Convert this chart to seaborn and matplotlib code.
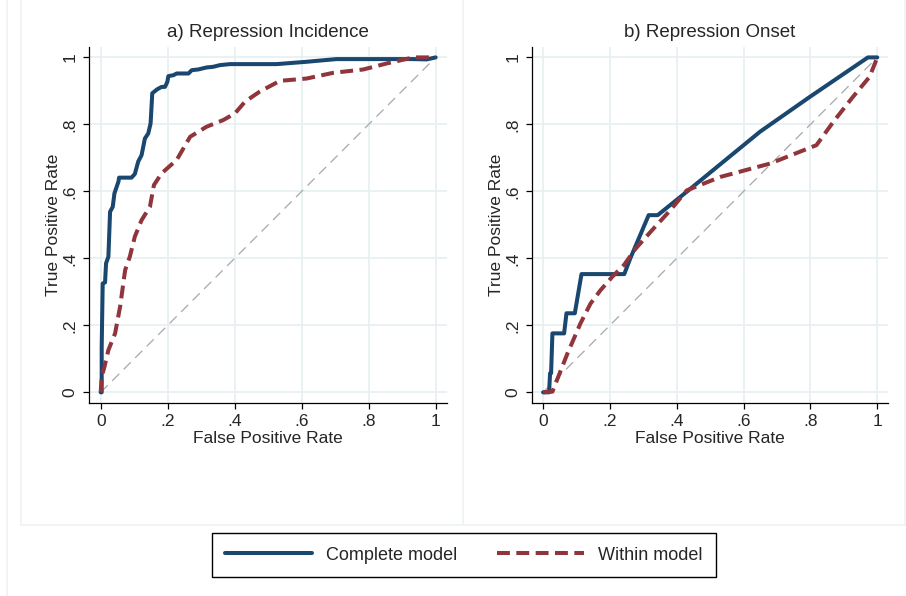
import pandas as pd
import matplotlib
matplotlib.use("Agg")
import matplotlib.pyplot as plt
from matplotlib.lines import Line2D
import seaborn as sns

# ROC points (false positive rate, true positive rate)
inc_complete_fpr = [0, 0.003, 0.003, 0.006, 0.013, 0.016, 0.023, 0.028, 0.036, 0.041, 0.053, 0.055,
                    0.092, 0.102, 0.112, 0.122, 0.132, 0.142, 0.149, 0.154, 0.169, 0.182, 0.192,
                    0.199, 0.202, 0.217, 0.227, 0.262, 0.272, 0.291, 0.316, 0.336, 0.356, 0.386,
                    0.525, 0.615, 0.704, 0.933, 0.973, 1.0]
inc_complete_tpr = [0, 0, 0.136, 0.325, 0.328, 0.385, 0.405, 0.539, 0.554, 0.594, 0.629, 0.641,
                    0.641, 0.652, 0.689, 0.708, 0.758, 0.773, 0.803, 0.893, 0.905, 0.912, 0.912,
                    0.927, 0.944, 0.947, 0.952, 0.952, 0.962, 0.964, 0.970, 0.972, 0.977, 0.980,
                    0.980, 0.987, 0.995, 0.995, 0.994, 1.0]
inc_within_fpr = [0, 0.003, 0.010, 0.023, 0.043, 0.058, 0.073, 0.087, 0.102, 0.122, 0.147, 0.159,
                  0.182, 0.227, 0.267, 0.316, 0.366, 0.401, 0.431, 0.475, 0.535, 0.615, 0.694,
                  0.784, 0.854, 0.933, 1.0]
inc_within_tpr = [0, 0.047, 0.071, 0.126, 0.176, 0.256, 0.365, 0.405, 0.465, 0.514, 0.554, 0.619,
                  0.654, 0.694, 0.763, 0.793, 0.813, 0.833, 0.868, 0.898, 0.930, 0.937, 0.954,
                  0.964, 0.982, 1.0, 1.0]

ons_complete_fpr = [0, 0.018, 0.021, 0.024, 0.028, 0.063, 0.070, 0.095, 0.115, 0.243, 0.261,
                    0.316, 0.343, 0.430, 0.649, 0.798, 0.972, 1.0]
ons_complete_tpr = [0, 0, 0.057, 0.057, 0.176, 0.176, 0.236, 0.236, 0.353, 0.353, 0.400,
                    0.529, 0.529, 0.599, 0.778, 0.882, 1.0, 1.0]
ons_within_fpr = [0, 0.028, 0.073, 0.112, 0.142, 0.172, 0.207, 0.242, 0.277, 0.326, 0.381, 0.430,
                  0.530, 0.679, 0.818, 0.868, 0.927, 0.977, 1.0]
ons_within_tpr = [0, 0.002, 0.116, 0.206, 0.265, 0.305, 0.345, 0.380, 0.429, 0.484, 0.544, 0.603,
                  0.643, 0.683, 0.738, 0.807, 0.882, 0.942, 1.0]

titles = ["a) Repression Incidence", "b) Repression Onset"]
ticks = [0, 0.2, 0.4, 0.6, 0.8, 1.0]
tick_labels = ["0", ".2", ".4", ".6", ".8", "1"]

NAVY = "#1a476f"
MAROON = "#90353b"
GRID = "#e6eff1"
FRAME = "#edf2f3"


def build_frame(fpr_a, tpr_a, fpr_b, tpr_b):
    a = pd.DataFrame({"fpr": fpr_a, "tpr": tpr_a, "model": "Complete model", "order": range(len(fpr_a))})
    b = pd.DataFrame({"fpr": fpr_b, "tpr": tpr_b, "model": "Within model", "order": range(len(fpr_b))})
    return pd.concat([a, b], ignore_index=True)


def draw_panel(ax, df, title):
    diag = pd.DataFrame({"x": [0, 1], "y": [0, 1]})
    sns.lineplot(data=diag, x="x", y="y", ax=ax, color="#a8a8a8", lw=0.9,
                 dashes=False, linestyle=(0, (8, 5)), zorder=2)
    for name, color, ls in [("Complete model", NAVY, "-"), ("Within model", MAROON, (0, (3.2, 1.6)))]:
        sub = df[df["model"] == name]
        sns.lineplot(data=sub, x="fpr", y="tpr", ax=ax, sort=False, estimator=None,
                     color=color, lw=2.9, linestyle=ls, zorder=3,
                     solid_capstyle="round", dash_capstyle="butt")
    ax.set_xlim(-0.034, 1.033)
    ax.set_ylim(-0.031, 1.032)
    ax.set_xticks(ticks)
    ax.set_xticklabels(tick_labels)
    ax.set_yticks(ticks)
    ax.set_yticklabels(tick_labels, rotation=90, va="center")
    ax.grid(True, color=GRID, lw=1.2)
    ax.set_axisbelow(True)
    for s in ["top", "right"]:
        ax.spines[s].set_visible(False)
    for s in ["left", "bottom"]:
        ax.spines[s].set_color("black")
        ax.spines[s].set_linewidth(0.9)
    ax.tick_params(axis="both", bottom=True, left=True, direction="out",
                   length=4.3, width=0.9, color="black", labelsize=12.5)
    ax.tick_params(axis="y", pad=4)
    ax.tick_params(axis="x", pad=3.5)
    ax.set_xlabel("False Positive Rate", fontsize=12.5, labelpad=2)
    ax.set_ylabel("True Positive Rate", fontsize=12.5, labelpad=1)
    ax.set_title(title, fontsize=13.5, pad=7)
    if ax.get_legend() is not None:
        ax.get_legend().remove()


def main():
    sns.set_style("white")
    plt.rcParams["font.family"] = ["Liberation Sans", "DejaVu Sans"]

    W, H = 906, 596
    fig = plt.figure(figsize=(W / 100, H / 100), dpi=100)

    # light frame lines of the graph regions
    def vline(x, y0, y1):
        fig.add_artist(Line2D([x / W, x / W], [1 - y0 / H, 1 - y1 / H], color=FRAME, lw=1.2))

    def hline(y, x0, x1):
        fig.add_artist(Line2D([x0 / W, x1 / W], [1 - y / H, 1 - y / H], color=FRAME, lw=1.2))

    vline(7, 0, H)
    vline(21, 0, 525)
    vline(463, 0, 525)
    vline(905, 0, 525)
    hline(525, 21, W)

    ax1 = fig.add_axes([89.3 / W, 1 - 402.7 / H, (446.7 - 89.3) / W, (402.7 - 46.7) / H])
    ax2 = fig.add_axes([531.7 / W, 1 - 402.7 / H, (888.3 - 531.7) / W, (402.7 - 46.7) / H])

    draw_panel(ax1, build_frame(inc_complete_fpr, inc_complete_tpr, inc_within_fpr, inc_within_tpr), titles[0])
    draw_panel(ax2, build_frame(ons_complete_fpr, ons_complete_tpr, ons_within_fpr, ons_within_tpr), titles[1])

    handles = [Line2D([], [], color=NAVY, lw=2.9),
               Line2D([], [], color=MAROON, lw=2.9, linestyle=(0, (3.2, 1.6)))]
    leg = fig.legend(handles, ["Complete model", "Within model"], loc="center",
                     bbox_to_anchor=(464 / W, 1 - 555 / H), ncol=2, fontsize=13,
                     handlelength=4.8, handletextpad=0.8, columnspacing=2.2,
                     borderpad=0.75, fancybox=False, framealpha=1, edgecolor="black")
    leg.get_frame().set_linewidth(1.0)

    fig.savefig("out.png", dpi=100, facecolor="white")
    plt.close(fig)


if __name__ == "__main__":
    main()
